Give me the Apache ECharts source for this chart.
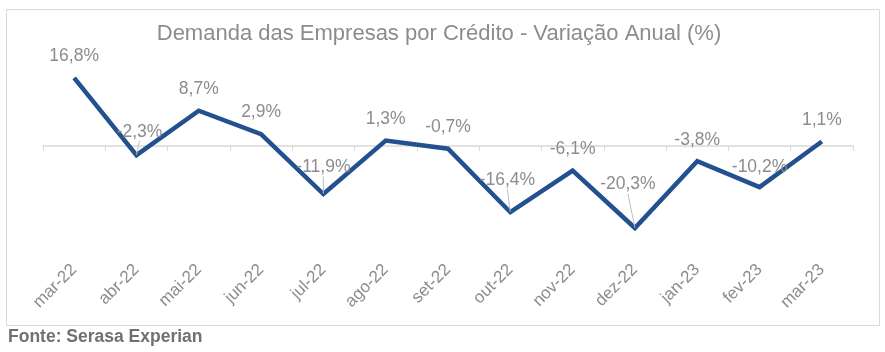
<!DOCTYPE html>
<html>
<head>
<meta charset="utf-8">
<script src="https://cdn.jsdelivr.net/npm/echarts@6/dist/echarts.min.js"></script>
<style>
    html, body { margin: 0; padding: 0; background: #fff; }
    #chart { width: 885px; height: 352px; }
</style>
</head>
<body>
<div id="chart"></div>
<script>
const months = ['mar-22', 'abr-22', 'mai-22', 'jun-22', 'jul-22', 'ago-22', 'set-22',
    'out-22', 'nov-22', 'dez-22', 'jan-23', 'fev-23', 'mar-23'];
const demanda = [16.8, -2.3, 8.7, 2.9, -11.9, 1.3, -0.7, -16.4, -6.1, -20.3, -3.8, -10.2, 1.1];
// extra lift of labels that Excel moved away from the point (leader lines)
const labelLift = [0, 2, 0, 0, 5, 0, 0, 11, 0, 22, 0, -2, 0];
const labelShift = [0, 3, 0, 0, 0, 0, 0, -3, 0, -7, 0, 0, 0];
const withLeader = [false, true, false, false, true, false, false, true, false, true, false, false, false];

const grey = '#8c8c8c';
const yMin = -25, yMax = 20;
const gridTop = 65, gridBottom = 105;
const chart = echarts.init(document.getElementById('chart'));

// distance (px) from the grid bottom up to the zero line
const plotH = 352 - gridTop - gridBottom;
const zeroOffset = plotH * (0 - yMin) / (yMax - yMin);

chart.setOption({
    animation: false,
    textStyle: { fontFamily: 'Liberation Sans, Arial, sans-serif' },
    title: {
        text: 'Demanda das Empresas por Crédito - Variação Anual (%)',
        left: 434,
        top: 18,
        textAlign: 'center',
        textStyle: { color: grey, fontSize: 22, fontWeight: 'normal' },
    },
    graphic: [
        {
            type: 'rect',
            shape: { x: 6.5, y: 9.5, width: 873, height: 316 },
            style: { fill: 'none', stroke: '#d9d9d9', lineWidth: 1 },
            z: -1,
        },
        {
            type: 'text',
            left: 8,
            top: 328,
            style: {
                text: 'Fonte: Serasa Experian',
                fill: '#707070',
                font: 'bold 17.5px Liberation Sans, Arial, sans-serif',
            },
        },
    ],
    grid: { left: 43, right: 32, top: gridTop, bottom: gridBottom },
    xAxis: [
        {
            type: 'category',
            data: months,
            boundaryGap: true,
            axisLine: { show: false },
            axisTick: { show: false },
            axisLabel: { rotate: 45, color: grey, fontSize: 17, margin: 20 },
        },
        {
            type: 'category',
            data: months,
            position: 'bottom',
            offset: -zeroOffset,
            boundaryGap: true,
            axisLine: { onZero: false, lineStyle: { color: '#d9d9d9', width: 1.5 } },
            axisTick: { show: true, length: 5, lineStyle: { color: '#d9d9d9' } },
            axisLabel: { show: false },
        },
    ],
    yAxis: {
        type: 'value',
        min: yMin,
        max: yMax,
        show: false,
        splitLine: { show: false },
    },
    series: [{
        type: 'line',
        data: demanda.map((v, i) => ({
            value: v,
            labelLine: { show: withLeader[i] },
        })),
        showSymbol: true,
        symbol: 'circle',
        symbolSize: 1,
        itemStyle: { color: 'rgba(0,0,0,0)' },
        lineStyle: { color: '#23508f', width: 4.5, join: 'miter' },
        label: {
            show: true,
            position: 'top',
            distance: 12,
            color: grey,
            fontSize: 17.5,
            formatter: p => p.value.toFixed(1).replace('.', ',') + '%',
        },
        labelLine: { show: false, lineStyle: { color: '#bfbfbf', width: 1 } },
        labelLayout: p => ({ dx: labelShift[p.dataIndex], dy: -labelLift[p.dataIndex] }),
    }],
});
</script>
</body>
</html>
